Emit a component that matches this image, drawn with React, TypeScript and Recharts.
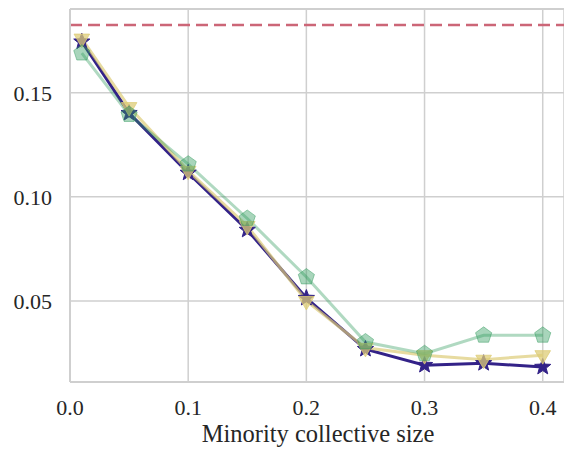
import { LineChart, Line, XAxis, YAxis, CartesianGrid, ReferenceLine } from 'recharts';

// minority collective size (x)
const sizes = [0.01, 0.05, 0.1, 0.15, 0.2, 0.25, 0.3, 0.35, 0.4];
// three series
const starVals = [0.1745, 0.1402, 0.1115, 0.0841, 0.0514, 0.0269, 0.0192, 0.0201, 0.0183];
const triVals = [0.1760, 0.1431, 0.1125, 0.0860, 0.0500, 0.0275, 0.0240, 0.0218, 0.0240];
const pentVals = [0.1690, 0.1395, 0.1157, 0.0896, 0.0615, 0.0303, 0.0247, 0.0335, 0.0335];
const baseline = 0.1825;

const xTicks = [0, 0.1, 0.2, 0.3, 0.4];
const yTicks = [0.05, 0.1, 0.15];
const xDomain = [0, 0.418];
const yDomain = [0.0111, 0.1902];

const data = sizes.map((s, i) => ({ size: s, star: starVals[i], tri: triVals[i], pent: pentVals[i] }));

const fontStyle = { fontFamily: '"Liberation Serif", "DejaVu Serif", serif', fontSize: 22, fill: '#262626' };
const gridColor = '#cfcfcf';
const green = '#2f9a5c';

function ring(cx: number, cy: number, n: number, r: number, rot: number, inner?: number) {
  const pts: string[] = [];
  const count = inner ? n * 2 : n;
  for (let i = 0; i < count; i++) {
    const rr = inner && i % 2 === 1 ? inner : r;
    const a = rot + (i * 2 * Math.PI) / count;
    pts.push(`${cx + rr * Math.cos(a)},${cy + rr * Math.sin(a)}`);
  }
  return pts.join(' ');
}

const StarDot = (p: any) => (
  <polygon key={`s${p.index}`} points={ring(p.cx, p.cy, 5, 8.5, -Math.PI / 2, 3.6)} fill="#332288" stroke="#332288" strokeWidth={1} />
);
const TriDot = (p: any) => (
  <polygon key={`t${p.index}`} points={ring(p.cx, p.cy, 3, 9, Math.PI / 2)} fill="#DDCC77" fillOpacity={0.75} stroke="#DDCC77" strokeOpacity={0.75} strokeWidth={1} />
);
const PentDot = (p: any) => (
  <polygon key={`p${p.index}`} points={ring(p.cx, p.cy, 5, 8.5, -Math.PI / 2)} fill={green} fillOpacity={0.42} stroke={green} strokeOpacity={0.45} strokeWidth={1} />
);

const XTick = ({ x, y, payload }: any) => (
  <text x={x} y={y + 33} textAnchor="middle" style={fontStyle}>{Number(payload.value).toFixed(1)}</text>
);
const YTick = ({ x, y, payload }: any) => (
  <text x={x - 18} y={y + 8} textAnchor="end" style={fontStyle}>{Number(payload.value).toFixed(2)}</text>
);

export default function App() {
  return (
    <div style={{ position: 'absolute', left: 0, top: 0, background: '#fff' }}>
      <LineChart width={564} height={449} data={data} margin={{ top: 9, right: 0, left: 0, bottom: 0 }}>
        <CartesianGrid stroke={gridColor} strokeWidth={1.5} />
        <XAxis
          type="number"
          dataKey="size"
          domain={xDomain}
          ticks={xTicks}
          allowDataOverflow
          height={67}
          tickSize={0}
          tickMargin={0}
          tick={XTick}
          axisLine={{ stroke: gridColor, strokeWidth: 2 }}
        />
        <YAxis
          type="number"
          domain={yDomain}
          ticks={yTicks}
          allowDataOverflow
          width={70}
          tickSize={0}
          tickMargin={0}
          tick={YTick}
          axisLine={{ stroke: gridColor, strokeWidth: 2 }}
        />
        <ReferenceLine y={yDomain[1]} stroke={gridColor} strokeWidth={2} />
        <ReferenceLine y={baseline} stroke="#CC6677" strokeWidth={2.5} strokeDasharray="12 6" />
        <Line dataKey="star" stroke="#332288" strokeWidth={3} dot={StarDot} isAnimationActive={false} />
        <Line dataKey="tri" stroke="#DDCC77" strokeOpacity={0.7} strokeWidth={3} dot={TriDot} isAnimationActive={false} />
        <Line dataKey="pent" stroke={green} strokeOpacity={0.38} strokeWidth={3} dot={PentDot} isAnimationActive={false} />
        <text x={318} y={442} textAnchor="middle" style={{ ...fontStyle, fontSize: 24.5 }}>Minority collective size</text>
      </LineChart>
    </div>
  );
}
